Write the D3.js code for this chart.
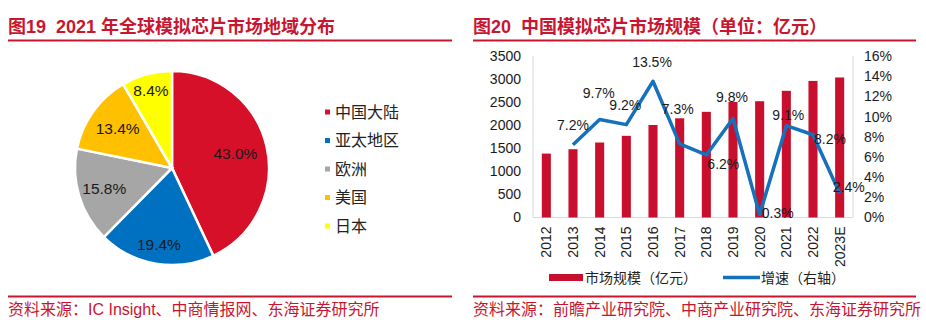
<!DOCTYPE html>
<html>
<head>
<meta charset="utf-8">
<script src="https://cdn.jsdelivr.net/npm/d3@7"></script>
<style>
  body { margin: 0; background: #fff; }
  svg { display: block; font-family: "Liberation Sans", Arial, "Noto Sans CJK SC", sans-serif; }
</style>
</head>
<body>
<div id="chart"></div>
<script>
  // regional split of the 2021 global analog chip market (%)
  const regions = ["中国大陆", "亚太地区", "欧洲", "美国", "日本"];
  const regionShare = [43.0, 19.4, 15.8, 13.4, 8.4];

  // China analog chip market size (亿元) and yearly growth (%)
  const years = ["2012", "2013", "2014", "2015", "2016", "2017", "2018", "2019", "2020", "2021", "2022", "2023E"];
  const marketSize = [1385, 1480, 1625, 1770, 2005, 2150, 2290, 2505, 2520, 2745, 2960, 3035];
  const growthYears = years.slice(1);
  const growth = [7.2, 9.7, 9.2, 13.5, 7.3, 6.2, 9.8, 0.3, 9.1, 8.2, 2.4];
  const leftTicks = [0, 500, 1000, 1500, 2000, 2500, 3000, 3500];
  const rightTicks = [0, 2, 4, 6, 8, 10, 12, 14, 16];

  const red = "#C8102E", titleRed = "#C81630", blue = "#1670BC";
  const sliceColors = ["#D7102A", "#0070C0", "#A6A6A6", "#FFC000", "#FFFF00"];

  const svg = d3.select("#chart").append("svg")
    .attr("width", 926).attr("height", 329);

  // panel titles, rules and source notes
  function panelFrame(x0, x1, title, source) {
    svg.append("text").attr("x", x0).attr("y", 33)
      .attr("fill", titleRed).style("font-weight", "bold").style("font-size", "18px")
      .attr("xml:space", "preserve")
      .text(title);
    svg.append("line").attr("x1", x0).attr("x2", x1).attr("y1", 40.5).attr("y2", 40.5)
      .attr("stroke", titleRed).attr("stroke-width", 2);
    svg.append("line").attr("x1", x0).attr("x2", x1).attr("y1", 296.5).attr("y2", 296.5)
      .attr("stroke", titleRed).attr("stroke-width", 2);
    svg.append("text").attr("x", x0).attr("y", 315)
      .attr("fill", titleRed).style("font-size", "16px")
      .text(source);
  }
  panelFrame(8, 452, "图19  2021 年全球模拟芯片市场地域分布", "资料来源：IC Insight、中商情报网、东海证券研究所");
  panelFrame(473, 916, "图20  中国模拟芯片市场规模（单位：亿元）", "资料来源：前瞻产业研究院、中商产业研究院、东海证券研究所");

  // ---- pie ----
  const cx = 172, cy = 168, radius = 97;
  const pieG = svg.append("g").attr("transform", `translate(${cx},${cy})`);
  const pie = d3.pie().sort(null).value(d => d)(regionShare);
  const arc = d3.arc().innerRadius(0).outerRadius(radius);
  pieG.selectAll("path").data(pie).enter().append("path")
    .attr("d", arc)
    .attr("fill", (d, i) => sliceColors[i])
    .attr("stroke", "#fff").attr("stroke-width", 2.5);

  // label distance from centre, as a fraction of the radius
  const labelRadius = [0.67, 0.8, 0.73, 0.69, 0.83];
  pieG.selectAll("text.pct").data(pie).enter().append("text")
    .attr("class", "pct")
    .attr("transform", (d, i) => {
      const r = radius * labelRadius[i];
      return `translate(${d3.arc().innerRadius(r).outerRadius(r).centroid(d)})`;
    })
    .attr("text-anchor", "middle").attr("dy", "0.35em")
    .attr("fill", "#1a1a1a").style("font-size", "15.5px")
    .text(d => d3.format(".1f")(d.data) + "%");

  // pie legend
  const legend = svg.append("g").attr("transform", "translate(325,112)");
  const rows = legend.selectAll("g").data(regions).enter().append("g")
    .attr("transform", (d, i) => `translate(0,${i * 28.5})`);
  rows.append("rect").attr("x", 0).attr("y", -2.5).attr("width", 5).attr("height", 5)
    .attr("fill", (d, i) => sliceColors[i]);
  rows.append("text").attr("x", 10).attr("dy", "0.35em")
    .attr("fill", "#222").style("font-size", "16px")
    .text(d => d);

  // ---- bar + line ----
  const plot = {left: 533, right: 853, top: 56, bottom: 217.5};
  const x = d3.scaleBand().domain(years).range([plot.left, plot.right])
    .paddingInner(0.66).paddingOuter(0.33);
  const yL = d3.scaleLinear().domain([0, 3500]).range([plot.bottom, plot.top]);
  const yR = d3.scaleLinear().domain([0, 16]).range([plot.bottom, plot.top]);

  // axis lines
  const axisG = svg.append("g").attr("stroke", "#D9D9D9").attr("stroke-width", 1);
  axisG.append("line").attr("x1", plot.left).attr("x2", plot.left).attr("y1", yL(3500)).attr("y2", yL(0));
  axisG.append("line").attr("x1", plot.right).attr("x2", plot.right).attr("y1", yL(3500)).attr("y2", yL(0));
  axisG.append("line").attr("x1", plot.left).attr("x2", plot.right).attr("y1", yL(0)).attr("y2", yL(0));

  svg.append("g").attr("transform", `translate(${plot.left},0)`)
    .call(d3.axisLeft(yL).tickValues(leftTicks).tickSize(0).tickPadding(12).tickFormat(d3.format("d")))
    .call(g => g.select(".domain").remove())
    .selectAll("text").attr("fill", "#1a1a1a").style("font-size", "14px")
    .style("font-family", "Liberation Sans, Arial, sans-serif");

  svg.append("g").attr("transform", `translate(${plot.right},0)`)
    .call(d3.axisRight(yR).tickValues(rightTicks).tickSize(0).tickPadding(11).tickFormat(d => d + "%"))
    .call(g => g.select(".domain").remove())
    .selectAll("text").attr("fill", "#1a1a1a").style("font-size", "14px")
    .style("font-family", "Liberation Sans, Arial, sans-serif");

  svg.append("g").attr("transform", `translate(0,${plot.bottom})`)
    .call(d3.axisBottom(x).tickSize(0).tickPadding(0))
    .call(g => g.select(".domain").remove())
    .selectAll("text")
      .attr("fill", "#1a1a1a").style("font-size", "14px")
      .style("font-family", "Liberation Sans, Arial, sans-serif")
      .attr("text-anchor", "end")
      .attr("transform", "rotate(-90)")
      .attr("x", -9).attr("y", 0).attr("dy", "0.36em");

  svg.append("g").selectAll("rect").data(marketSize).enter().append("rect")
    .attr("x", (d, i) => x(years[i]))
    .attr("y", d => yL(d))
    .attr("width", x.bandwidth())
    .attr("height", d => yL(0) - yL(d))
    .attr("fill", red);

  const cxBand = yr => x(yr) + x.bandwidth() / 2;
  svg.append("path")
    .datum(growth)
    .attr("fill", "none")
    .attr("stroke", blue)
    .attr("stroke-width", 3.5)
    .attr("stroke-linejoin", "round")
    .attr("d", d3.line()
      .x((d, i) => cxBand(growthYears[i]))
      .y(d => yR(d)));

  // growth label nudges relative to each point
  const growthLabelOffset = [[0, -20], [-1, -26], [-1, -20], [-1, -19], [-2, -35], [17, 9],
                             [-1, -21], [18, -1], [2, -11], [17, 4], [9, -6]];
  svg.append("g").selectAll("text").data(growth).enter().append("text")
    .attr("x", (d, i) => cxBand(growthYears[i]) + growthLabelOffset[i][0])
    .attr("y", (d, i) => yR(d) + growthLabelOffset[i][1])
    .attr("text-anchor", "middle").attr("dy", "0.35em")
    .attr("fill", "#1a1a1a").style("font-size", "14px")
    .text(d => d3.format(".1f")(d) + "%");

  // chart legend
  const lg = svg.append("g").attr("transform", "translate(549,277.5)");
  lg.append("rect").attr("x", 0).attr("y", -3.5).attr("width", 34).attr("height", 7).attr("fill", red);
  lg.append("text").attr("x", 36).attr("dy", "0.36em").attr("fill", "#222").style("font-size", "14px")
    .text("市场规模（亿元）");
  lg.append("line").attr("x1", 174).attr("x2", 211).attr("y1", 0).attr("y2", 0)
    .attr("stroke", blue).attr("stroke-width", 3.5);
  lg.append("text").attr("x", 212).attr("dy", "0.36em").attr("fill", "#222").style("font-size", "14px")
    .text("增速（右轴）");
</script>
</body>
</html>
